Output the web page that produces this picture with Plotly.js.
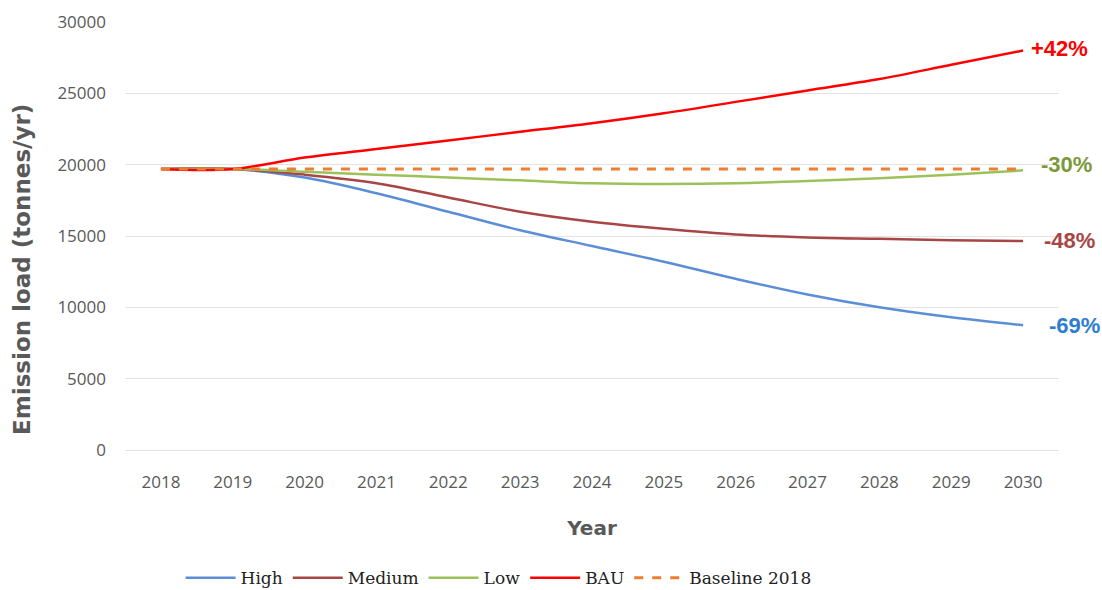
<!DOCTYPE html>
<html><head><meta charset="utf-8">
<script src="https://cdn.plot.ly/plotly-3.0.1.min.js"></script>
<style>html,body{margin:0;padding:0;background:#fff}#c{width:1102px;height:590px}</style>
</head><body><div id="c"></div>
<script>
const years = [2018,2019,2020,2021,2022,2023,2024,2025,2026,2027,2028,2029,2030];
const high = [19700,19700,19100,18000,16700,15400,14300,13200,12000,10900,10000,9300,8750];
const medium = [19700,19700,19300,18700,17700,16700,16000,15500,15100,14900,14800,14700,14650];
const low = [19700,19700,19500,19300,19100,18900,18700,18650,18700,18850,19050,19300,19600];
const bau = [19700,19700,20500,21100,21700,22300,22900,23600,24400,25200,26000,27000,28000];
const baseline = [19700,19700,19700,19700,19700,19700,19700,19700,19700,19700,19700,19700,19700];
const endLabels = ["+42%","-30%","-48%","-69%"];
const endValues = [28000,19900,14650,8750];
const yTitle = "Emission load (tonnes/yr)";

const traces = [
  {x:years,y:high,name:"High",mode:"lines",line:{color:"#5B8ED6",width:2.5,shape:"spline"}},
  {x:years,y:medium,name:"Medium",mode:"lines",line:{color:"#A84646",width:2.5,shape:"spline"}},
  {x:years,y:low,name:"Low",mode:"lines",line:{color:"#9BC15A",width:2.5,shape:"spline"}},
  {x:years,y:bau,name:"BAU",mode:"lines",line:{color:"#FF0000",width:2.5,shape:"spline"}},
  {x:years,y:baseline,name:"Baseline 2018",mode:"lines",line:{color:"#ED7D31",width:3,dash:"dash"}}
];
const labelColors = ["#FF0000","#7A9A3A","#A84646","#2F7DD1"];
const labelShift = [6,16,19,24];
const annotations = endLabels.map((t,i)=>({
  x:2030,y:endValues[i],xref:"x",yref:"y",text:"<b>"+t+"</b>",showarrow:false,
  xanchor:"left",yanchor:"middle",xshift:labelShift[i],
  font:{family:"Liberation Sans Narrow, Liberation Sans, Arial",size:22,color:labelColors[i]}
}));
annotations[1].yshift = 2;
annotations[0].yshift = 2;
annotations.push({xref:"paper",yref:"paper",x:-0.1103,y:0.423,xanchor:"center",yanchor:"middle",
  textangle:-90,showarrow:false,text:"<b>"+yTitle+"</b>",
  font:{family:"DejaVu Sans, sans-serif",size:23,color:"#595959"}});
const layout = {
  width:1102,height:590,
  margin:{l:125,r:43,t:22,b:140,autoexpand:false},
  paper_bgcolor:"#fff",plot_bgcolor:"#fff",
  font:{family:"Open Sans, Noto Sans, sans-serif",color:"#595959",size:17},
  xaxis:{range:[2017.5,2030.5],tickvals:years,ticktext:years.map(String),showgrid:false,zeroline:false,
    showline:false,ticks:"",tickfont:{size:17,color:"#595959"},automargin:false,ticklabelstandoff:20,
    title:{text:"<b>Year</b>",font:{family:"DejaVu Sans, sans-serif",size:20,color:"#595959"},standoff:28}},
  yaxis:{range:[0,30000],dtick:5000,tickformat:"d",showgrid:true,gridcolor:"#E3E3E3",gridwidth:1,
    zeroline:true,zerolinecolor:"#E3E3E3",zerolinewidth:1,automargin:false,
    ticks:"",tickfont:{size:17,color:"#595959"},ticklabelstandoff:18},
  legend:{orientation:"h",x:0.4,xanchor:"center",yref:"container",y:0.02,yanchor:"middle",
    font:{family:"DejaVu Serif, Liberation Serif, serif",size:17,color:"#222"},itemwidth:50},
  annotations:annotations,
  showlegend:true
};
Plotly.newPlot("c",traces,layout,{displayModeBar:false,staticPlot:true});
</script></body></html>
